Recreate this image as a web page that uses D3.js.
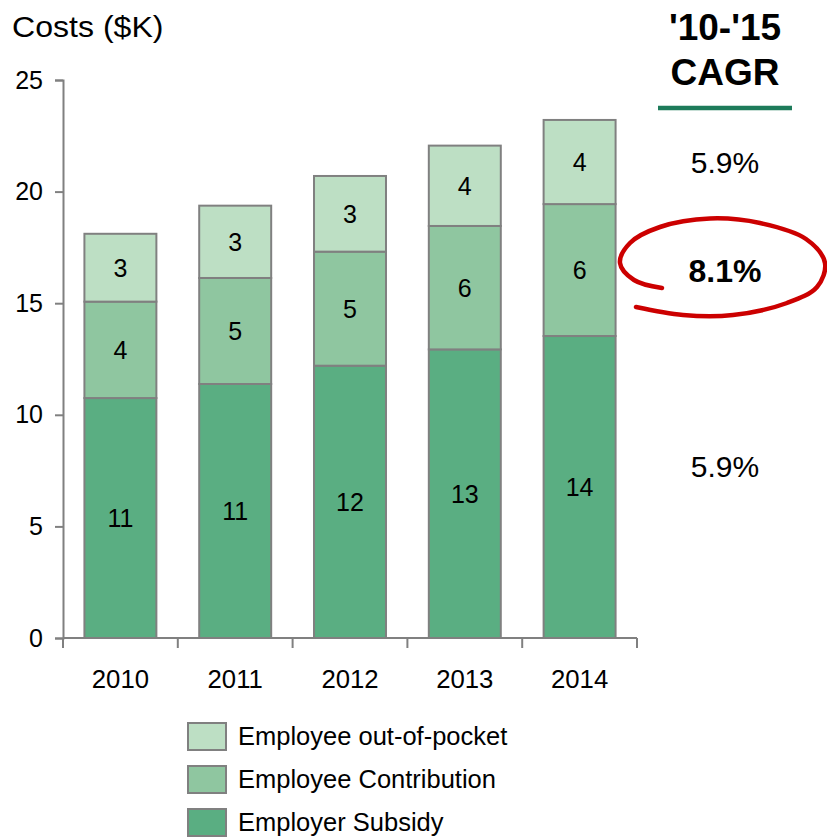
<!DOCTYPE html>
<html>
<head>
<meta charset="utf-8">
<script src="https://cdn.jsdelivr.net/npm/d3@7"></script>
<style>
  html, body { margin: 0; padding: 0; background: #fff; }
  svg { display: block; }
  text { font-family: "Liberation Sans", Arial, Helvetica, sans-serif; fill: #000; }
</style>
</head>
<body>
<svg id="chart" width="827" height="837"></svg>
<script>
// Cost components per year, $K
const years = ["2010", "2011", "2012", "2013", "2014"];
const employerSubsidy = [10.75, 11.38, 12.20, 12.93, 13.53];
const employeeContribution = [4.32, 4.75, 5.11, 5.53, 5.91];
const employeeOutOfPocket = [3.04, 3.24, 3.39, 3.60, 3.77];
const seriesNames = ["Employer Subsidy", "Employee Contribution", "Employee out-of-pocket"];
const yTicks = [0, 5, 10, 15, 20, 25];

// '10-'15 CAGR per component (top to bottom)
const cagrHeader = ["'10-'15", "CAGR"];
const cagrLabels = ["5.9%", "8.1%", "5.9%"];
const cagrBold = [false, true, false];
const cagrBaselines = [173, 282, 477];

const colors = ["#5aae82", "#8fc6a0", "#bddfc4"];
const strokeGray = "#808080";

const svg = d3.select("#chart");

const plot = { left: 63, right: 637, top: 80, bottom: 638 };

const rows = years.map((yr, i) => ({
  year: yr,
  "Employer Subsidy": employerSubsidy[i],
  "Employee Contribution": employeeContribution[i],
  "Employee out-of-pocket": employeeOutOfPocket[i]
}));

const stack = d3.stack().keys(seriesNames);
const layers = stack(rows);

const x = d3.scaleBand().domain(years).range([plot.left, plot.right])
  .paddingInner(0.373).paddingOuter(0.1865);
const xCat = d3.scaleBand().domain(years).range([plot.left, plot.right]).padding(0);
const y = d3.scaleLinear().domain([0, 25]).range([plot.bottom, plot.top]);

// Text slightly widened horizontally, anchored at (px, py)
function wideText(parent, px, py, sx) {
  return parent.append("text")
    .attr("transform", `translate(${px},${py}) scale(${sx},1)`);
}

// Title
wideText(svg, 12, 37, 1.07).style("font-size", "30px").text("Costs ($K)");

// Y axis
const yAxis = svg.append("g").attr("transform", `translate(${plot.left},0)`)
  .call(d3.axisLeft(y).tickValues(yTicks).tickSize(8).tickPadding(12).tickFormat(d3.format("d")));
yAxis.select(".domain").attr("stroke", strokeGray).attr("stroke-width", 2);
yAxis.selectAll(".tick line").attr("stroke", strokeGray).attr("stroke-width", 2);
yAxis.selectAll(".tick text").style("font-size", "25px").attr("fill", "#000")
  .style("font-family", "'Liberation Sans', Arial, sans-serif");

// Stacked bars
const fmt = d3.format(".0f");
layers.forEach((layer, li) => {
  const g = svg.append("g");
  g.selectAll("rect").data(layer).join("rect")
    .attr("x", d => x(d.data.year))
    .attr("width", x.bandwidth())
    .attr("y", d => y(d[1]))
    .attr("height", d => y(d[0]) - y(d[1]))
    .attr("fill", colors[li])
    .attr("stroke", strokeGray)
    .attr("stroke-width", 2);
  g.selectAll("text").data(layer).join("text")
    .attr("x", d => x(d.data.year) + x.bandwidth() / 2)
    .attr("y", d => (y(d[0]) + y(d[1])) / 2)
    .attr("dy", "0.36em")
    .attr("text-anchor", "middle")
    .style("font-size", "25px")
    .text(d => fmt(d[1] - d[0]));
});

// X axis: baseline, category boundary ticks and year labels
const xAxisG = svg.append("g");
xAxisG.append("line")
  .attr("x1", plot.left).attr("x2", plot.right)
  .attr("y1", plot.bottom).attr("y2", plot.bottom)
  .attr("stroke", strokeGray).attr("stroke-width", 2);
const boundaries = years.map(d => xCat(d)).concat([xCat.range()[1]]);
xAxisG.selectAll("line.tick").data(boundaries).join("line")
  .attr("class", "tick")
  .attr("x1", d => d).attr("x2", d => d)
  .attr("y1", plot.bottom).attr("y2", plot.bottom + 10)
  .attr("stroke", strokeGray).attr("stroke-width", 2);
years.forEach(d => {
  wideText(xAxisG, xCat(d) + xCat.bandwidth() / 2, 688, 1.03)
    .attr("text-anchor", "middle")
    .style("font-size", "25px")
    .text(d);
});

// Legend (top-to-bottom matches stack order reversed)
const legendOrder = seriesNames.map((n, i) => ({ name: n, color: colors[i] })).reverse();
const legend = svg.append("g");
legendOrder.forEach((item, i) => {
  const top = 723 + i * 43;
  legend.append("rect")
    .attr("x", 188).attr("y", top).attr("width", 38).attr("height", 27)
    .attr("fill", item.color).attr("stroke", strokeGray).attr("stroke-width", 2);
  wideText(legend, 238, top + 22, 1.02)
    .style("font-size", "25px")
    .text(item.name);
});

// CAGR column
const cx = 725;
cagrHeader.forEach((t, i) => {
  svg.append("text").attr("x", cx).attr("y", 40 + i * 45)
    .attr("text-anchor", "middle")
    .style("font-size", "37px").style("font-weight", "bold")
    .text(t);
});
svg.append("line")
  .attr("x1", 658).attr("x2", 792).attr("y1", 108).attr("y2", 108)
  .attr("stroke", "#1d7b5a").attr("stroke-width", 4.5);

cagrLabels.forEach((t, i) => {
  svg.append("text").attr("x", cx).attr("y", cagrBaselines[i])
    .attr("text-anchor", "middle")
    .style("font-size", cagrBold[i] ? "32px" : "30px")
    .style("font-weight", cagrBold[i] ? "bold" : "normal")
    .text(t);
});

// Hand-drawn highlight loop around the contribution CAGR
const loopPts = [
  [662, 288], [634, 280], [620, 263], [630, 243], [660, 227], [710, 218.5],
  [760, 223], [806, 239], [825, 263], [817, 287], [787, 303], [733, 315],
  [683, 315], [636, 307]
];
svg.append("path")
  .attr("d", d3.line().curve(d3.curveCatmullRom.alpha(0.5))(loopPts))
  .attr("fill", "none")
  .attr("stroke", "#cc0000")
  .attr("stroke-width", 4.5)
  .attr("stroke-linecap", "round");
</script>
</body>
</html>
